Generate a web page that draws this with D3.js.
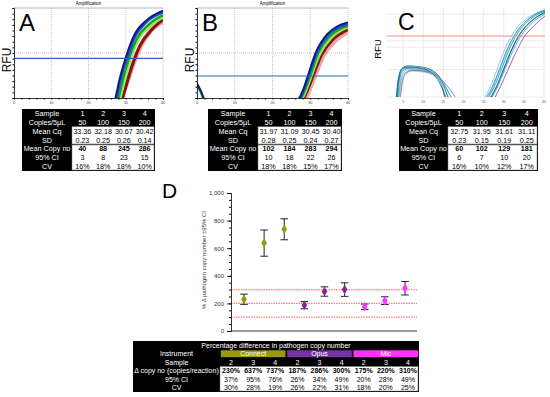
<!DOCTYPE html>
<html>
<head>
<meta charset="utf-8">
<script src="https://cdn.jsdelivr.net/npm/d3@7"></script>
<style>
  body { margin: 0; background: #fff; }
  svg { display: block; font-family: "Liberation Sans", Arial, sans-serif; }
</style>
</head>
<body>
<script>
// ---------- data ----------
const cycleTicks = [0, 10, 20, 30, 40];
const cycleTicksC = [5, 10, 15, 20, 25, 30, 35, 40];
const samples = ["1", "2", "3", "4"];
const copiesPer5uL = ["50", "100", "150", "200"];

const meanCqA = ["33.36", "32.18", "30.67", "30.42"];
const sdA = ["0.23", "0.25", "0.26", "0.14"];
const copyNoA = ["40", "88", "245", "286"];
const ciA = ["3", "8", "23", "15"];
const cvA = ["16%", "18%", "18%", "10%"];

const meanCqB = ["31.97", "31.09", "30.45", "30.40"];
const sdB = ["0.28", "0.25", "0.24", "0.27"];
const copyNoB = ["102", "184", "283", "294"];
const ciB = ["10", "18", "22", "26"];
const cvB = ["18%", "18%", "15%", "17%"];

const meanCqC = ["32.75", "31.95", "31.61", "31.11"];
const sdC = ["0.23", "0.15", "0.19", "0.25"];
const copyNoC = ["60", "102", "129", "181"];
const ciC = ["6", "7", "10", "20"];
const cvC = ["16%", "10%", "12%", "17%"];

const instruments = ["Connect", "Opus", "Mic"];
const dSamples = ["2", "3", "4"];
const deltaCopy = [230, 637, 737, 187, 286, 300, 175, 220, 310];
const deltaCI = [37, 95, 76, 26, 34, 49, 20, 28, 49];
const deltaCV = [30, 28, 19, 26, 22, 31, 18, 20, 25];
const refLines = [100, 200, 300];
const dTicks = [0, 200, 400, 600, 800, 1000];

// amplification traces, [cycle, normalised RFU]
const thresholdA = 0.44;
const thresholdB = 0.244;
const thresholdC = 0.685;

const tracesA = {
  pink:   [[28.5,-0.05],[30.5,0.2],[32,0.38],[34,0.58],[36.5,0.74],[40,0.85]],
  red:    [[28.8,-0.05],[30.4,0.18],[31.8,0.37],[33.8,0.58],[36.8,0.75],[40,0.87]],
  lgreen: [[28.2,-0.05],[29.8,0.22],[31.5,0.47],[33.5,0.66],[36.5,0.8],[40,0.9]],
  green:  [[27.8,-0.05],[29.5,0.25],[31,0.46],[33,0.66],[36,0.81],[40,0.92]],
  blue:   [[27.3,-0.05],[28.9,0.25],[30.6,0.47],[32.5,0.68],[35.5,0.84],[40,0.95]],
  navy:   [[27.0,-0.05],[28.6,0.25],[30.4,0.5],[32.3,0.7],[35.5,0.86],[40,0.97]]
};
const tracesB = {
  pink:   [[28.2,-0.05],[29.8,0.1],[31.2,0.25],[33.4,0.47],[36.4,0.63],[40,0.74]],
  red:    [[27.8,-0.05],[29.4,0.1],[30.8,0.25],[33,0.48],[36,0.65],[40,0.76]],
  lgreen: [[27.3,-0.05],[28.8,0.08],[30.2,0.24],[32.3,0.47],[35.3,0.66],[40,0.79]],
  green:  [[27,-0.05],[28.5,0.08],[30,0.25],[32,0.49],[35,0.68],[37.5,0.76],[40,0.8]],
  blue:   [[26.8,-0.05],[28.2,0.08],[29.6,0.25],[31.7,0.5],[34.7,0.7],[37.3,0.78],[40,0.82]],
  navy:   [[26.5,-0.05],[28,0.08],[29.4,0.25],[31.5,0.51],[34.5,0.71],[37.3,0.8],[40,0.84]]
};
const startB = {
  green: [[0,0.14],[1,0.06],[1.8,-0.03]],
  navy:  [[0,0.16],[1.1,0.07],[2,-0.03]]
};

const humpsC = [
  [[3.2,-0.05],[3.7,0.18],[4.4,0.29],[5.5,0.33],[8,0.33],[11,0.3],[13,0.25],[14.5,0.15],[15.6,-0.05]],
  [[3.5,-0.05],[4,0.2],[4.8,0.3],[6,0.32],[9,0.31],[12,0.27],[14,0.18],[15.2,0.05],[16,-0.05]],
  [[3.8,-0.05],[4.3,0.17],[5,0.27],[6.5,0.31],[9.5,0.3],[12.5,0.26],[14.5,0.17],[16,0.02],[16.8,-0.05]],
  [[3.3,-0.05],[3.9,0.2],[4.6,0.31],[6,0.34],[8.5,0.33],[11.5,0.29],[13.5,0.2],[15,0.06],[15.8,-0.05]],
  [[4,-0.05],[4.6,0.15],[5.4,0.25],[7,0.29],[10,0.28],[12.5,0.24],[14.5,0.14],[16.3,0],[17.2,-0.05]],
  [[3.6,-0.05],[4.1,0.19],[4.9,0.29],[6.5,0.33],[10,0.32],[13,0.27],[15,0.16],[16.5,0.03],[17.5,-0.05]],
  [[3.4,-0.05],[3.9,0.21],[4.7,0.32],[6.2,0.35],[9.2,0.34],[12.2,0.3],[14.2,0.21],[15.6,0.07],[16.4,-0.05]],
  [[3.9,-0.05],[4.4,0.16],[5.2,0.26],[7,0.3],[10.5,0.29],[13.5,0.24],[15.4,0.13],[16.8,0.01],[17.6,-0.05]],
  [[4.2,-0.05],[4.8,0.16],[5.6,0.26],[7.5,0.3],[11,0.28],[14,0.22],[16,0.12],[17.8,0.01],[18.6,-0.05]]
];
const risesC = [
  [[24.5,-0.05],[26.5,0.1],[28.5,0.33],[30.5,0.56],[32.5,0.73],[35,0.86],[38,0.94],[40.5,0.99]],
  [[25,-0.05],[27,0.1],[29,0.32],[31,0.55],[33,0.72],[35.5,0.85],[38,0.93],[40.5,0.98]],
  [[25.3,-0.05],[27.2,0.1],[29.2,0.33],[31.2,0.56],[33.2,0.73],[35.7,0.86],[38.2,0.94],[40.5,0.98]],
  [[25.5,-0.05],[27.5,0.1],[29.5,0.32],[31.5,0.55],[33.5,0.72],[36,0.85],[38.5,0.93],[40.5,0.97]],
  [[26,-0.05],[28,0.1],[30,0.32],[32,0.54],[34,0.71],[36.5,0.84],[40.5,0.95]],
  [[26.2,-0.05],[28.1,0.1],[30.1,0.32],[32.1,0.54],[34.1,0.71],[36.6,0.84],[40.5,0.96]],
  [[26.5,-0.05],[28.3,0.1],[30.3,0.31],[32.3,0.52],[34.3,0.69],[36.8,0.82],[40.5,0.94]],
  [[27.3,-0.05],[29,0.1],[31,0.3],[33,0.5],[35,0.67],[37.5,0.8],[40.5,0.92]]
];

// ---------- styles ----------
const FONT = '"Liberation Sans", Arial, sans-serif';
const traceColour = { pink: "#e9a7a7", red: "#8e1010", lgreen: "#86f060", green: "#1ea51e", blue: "#2050d0", navy: "#0c1a8a" };
const traceWidth = { pink: 5, red: 3, lgreen: 3, green: 2.5, blue: 2.5, navy: 2 };
const humpColours = ["#2a78b8", "#3aa6c4", "#6cc6c8", "#1d5c96", "#8fd0d0", "#2f8fb0", "#1f6f9a", "#4cb4c0", "#9b5aa8"];
const riseColours = ["#8ec9e6", "#2a84c0", "#5bb6d8", "#1f9e9a", "#256fae", "#1b5f86", "#3ab0c8", "#9b4fa8"];
const instColour = { Connect: "#9b970f", Opus: "#7733a6", Mic: "#ff33ff" };
const markColour = { Connect: "#9b970f", Opus: "#8a2396", Mic: "#ff33ff" };

const svg = d3.select("body").append("svg")
  .attr("width", 550).attr("height", 397)
  .style("font-family", FONT);

const line = d3.line().curve(d3.curveMonotoneX);

// ---------- panels A / B ----------
function ampPanel(o) {
  const g = svg.append("g");
  const x = d3.scaleLinear().domain([0, 40]).range([o.x0, o.x1]);
  const y = d3.scaleLinear().domain([0, 1]).range([o.y1, o.y0]);
  const clipId = "clip" + o.letter;
  svg.append("clipPath").attr("id", clipId).append("rect")
    .attr("x", o.x0).attr("y", o.y0).attr("width", o.x1 - o.x0).attr("height", o.y1 - o.y0);

  // frame + grid
  g.append("line").attr("x1", o.x0).attr("x2", o.x1).attr("y1", o.y0).attr("y2", o.y0)
    .attr("stroke", "#999").attr("stroke-width", 0.7);
  g.append("line").attr("x1", o.x1).attr("x2", o.x1).attr("y1", o.y0).attr("y2", o.y1)
    .attr("stroke", "#aaa").attr("stroke-width", 0.7).attr("stroke-dasharray", "1,1");
  g.selectAll(".vg").data([10, 20, 30]).join("line")
    .attr("x1", d => x(d)).attr("x2", d => x(d)).attr("y1", o.y0).attr("y2", o.y1)
    .attr("stroke", "#aaa").attr("stroke-width", 0.7).attr("stroke-dasharray", "1,1");
  g.append("line").attr("x1", o.x0).attr("x2", o.x1).attr("y1", y(0.5)).attr("y2", y(0.5))
    .attr("stroke", "#aaa").attr("stroke-width", 0.7).attr("stroke-dasharray", "1,1");

  // traces
  const tg = g.append("g").attr("clip-path", `url(#${clipId})`);
  Object.keys(o.traces).forEach(k => {
    tg.append("path").attr("d", line(o.traces[k].map(p => [x(p[0]), y(p[1])])))
      .attr("fill", "none").attr("stroke", traceColour[k]).attr("stroke-width", traceWidth[k]);
  });
  if (o.start) Object.keys(o.start).forEach(k => {
    tg.append("path").attr("d", line(o.start[k].map(p => [x(p[0]), y(p[1])])))
      .attr("fill", "none").attr("stroke", traceColour[k]).attr("stroke-width", 2);
  });
  // threshold
  g.append("line").attr("x1", o.x0 + 1).attr("x2", o.x1).attr("y1", y(o.thr)).attr("y2", y(o.thr))
    .attr("stroke", "#2b66b8").attr("stroke-width", 1.1);

  // axes
  const xa = g.append("g").attr("transform", `translate(0,${o.y1})`)
    .call(d3.axisBottom(x).tickValues(d3.range(0, 41, 2)).tickSize(1.5).tickFormat(""));
  xa.select(".domain").attr("stroke-width", 0.8);
  g.selectAll(".xl").data(cycleTicks).join("text")
    .attr("x", d => x(d)).attr("y", o.y1 + 6).attr("text-anchor", "middle")
    .attr("font-size", 3.8).attr("fill", "#444").text(d => d);
  const ya = g.append("g").attr("transform", `translate(${o.x0},0)`)
    .call(d3.axisLeft(y).tickValues(d3.range(0, 1.01, 0.0625)).tickSize(1.5).tickFormat(""));
  ya.select(".domain").attr("stroke-width", 0.8);

  g.append("text").attr("x", (o.x0 + o.x1) / 2).attr("y", 5).attr("text-anchor", "middle")
    .attr("font-size", 4.5).text("Amplification");
  g.append("text").attr("x", o.x0 + 5).attr("y", o.y0 + 23).attr("font-size", 24).text(o.letter);
  g.append("text").attr("transform", `translate(${o.x0 - 3},${(o.y0 + o.y1) / 2 + 7}) rotate(-90)`)
    .attr("text-anchor", "middle").attr("font-size", 12).text("RFU");
}

ampPanel({ letter: "A", x0: 14, x1: 163, y0: 8, y1: 98, thr: thresholdA, traces: tracesA });
ampPanel({ letter: "B", x0: 197, x1: 348, y0: 8, y1: 98, thr: thresholdB, traces: tracesB, start: startB });

// ---------- panel C ----------
(function () {
  const g = svg.append("g");
  const x0 = 387, x1 = 545, y0 = 8, y1 = 97;
  const x = d3.scaleLinear().domain([0, 40]).range([383, 544]);
  const y = d3.scaleLinear().domain([0, 1]).range([y1, y0]);
  svg.append("clipPath").attr("id", "clipC").append("rect")
    .attr("x", x0).attr("y", y0).attr("width", x1 - x0).attr("height", y1 - y0);
  g.selectAll(".vg").data(cycleTicksC).join("line")
    .attr("x1", d => x(d)).attr("x2", d => x(d)).attr("y1", y0).attr("y2", y1)
    .attr("stroke", "#e4e4e4").attr("stroke-width", 0.8);
  g.selectAll(".hg").data([0, 0.31, 0.56, 0.63, 0.93]).join("line")
    .attr("x1", x0).attr("x2", x1).attr("y1", d => y(d)).attr("y2", d => y(d))
    .attr("stroke", "#e4e4e4").attr("stroke-width", 0.8);
  const tg = g.append("g").attr("clip-path", "url(#clipC)");
  humpsC.forEach((t, i) => tg.append("path").attr("d", line(t.map(p => [x(p[0]), y(p[1])])))
    .attr("fill", "none").attr("stroke", humpColours[i]).attr("stroke-width", 0.9).attr("opacity", 0.9));
  risesC.forEach((t, i) => tg.append("path").attr("d", line(t.map(p => [x(p[0]), y(p[1])])))
    .attr("fill", "none").attr("stroke", riseColours[i]).attr("stroke-width", 1).attr("opacity", 0.9));
  g.append("line").attr("x1", x0).attr("x2", x1).attr("y1", y(thresholdC)).attr("y2", y(thresholdC))
    .attr("stroke", "#f48a84").attr("stroke-width", 1);
  g.selectAll(".xl").data(cycleTicksC).join("text")
    .attr("x", d => x(d)).attr("y", y1 + 5.5).attr("text-anchor", "middle")
    .attr("font-size", 3.5).attr("fill", "#555").text(d => d);
  g.append("text").attr("x", 398).attr("y", 30).attr("font-size", 23).text("C");
  g.append("text").attr("transform", `translate(381,49) rotate(-90)`)
    .attr("text-anchor", "middle").attr("font-size", 9.5).text("RFU");
})();

// ---------- small tables ----------
function panelTable(x0, y0, w, h, labelW, cq, sd, copyNo, ci, cv) {
  const rows = [
    { label: "Sample", vals: samples, head: true },
    { label: "Copies/5µL", vals: copiesPer5uL, head: true },
    { label: "Mean Cq", vals: cq },
    { label: "SD", vals: sd },
    { label: "Mean Copy no", vals: copyNo, bold: true },
    { label: "95% CI", vals: ci },
    { label: "CV", vals: cv }
  ];
  const rh = h / rows.length;
  const cw = (w - labelW) / 4;
  const g = svg.append("g");
  g.append("rect").attr("x", x0).attr("y", y0).attr("width", w).attr("height", h).attr("fill", "#000");
  g.append("rect").attr("x", x0 + labelW).attr("y", y0 + 2 * rh).attr("width", w - labelW - 1)
    .attr("height", 5 * rh - 1).attr("fill", "#fff").attr("stroke", "#777").attr("stroke-width", 0.5);
  g.append("line").attr("x1", x0 + labelW).attr("x2", x0 + w - 1)
    .attr("y1", y0 + 4 * rh).attr("y2", y0 + 4 * rh).attr("stroke", "#555").attr("stroke-width", 1.6);
  rows.forEach((r, i) => {
    const cy = y0 + (i + 0.5) * rh;
    g.append("text").attr("x", x0 + labelW / 2).attr("y", cy).attr("dy", "0.35em")
      .attr("text-anchor", "middle").attr("font-size", 7.2).attr("fill", "#fff").text(r.label);
    r.vals.forEach((v, j) => {
      g.append("text").attr("x", x0 + labelW + (j + 0.5) * cw).attr("y", cy).attr("dy", "0.35em")
        .attr("text-anchor", "middle").attr("font-size", 7.2)
        .attr("font-weight", r.bold ? "bold" : "normal")
        .attr("fill", r.head ? "#fff" : "#000").text(v);
    });
  });
}
panelTable(22, 109, 133, 62, 50, meanCqA, sdA, copyNoA, ciA, cvA);
panelTable(208, 109, 134, 62, 50, meanCqB, sdB, copyNoB, ciB, cvB);
panelTable(399, 109, 139, 62, 49, meanCqC, sdC, copyNoC, ciC, cvC);

// ---------- panel D ----------
(function () {
  const g = svg.append("g");
  const ax0 = 231, ax1 = 417;
  const y = d3.scaleLinear().domain([0, 1000]).range([331, 193]);
  const keys = d3.range(deltaCopy.length);
  const x = d3.scalePoint().domain(keys).range([244, 405]);
  const inst = i => instruments[Math.floor(i / 3)];

  g.selectAll(".ref").data(refLines).join("line")
    .attr("x1", ax0).attr("x2", ax1).attr("y1", d => y(d)).attr("y2", d => y(d))
    .attr("stroke", "#ff6a6a").attr("stroke-width", 1.2).attr("stroke-dasharray", "1.5,1")
    .attr("opacity", 0.85);

  const ya = g.append("g").attr("transform", `translate(${ax0},0)`)
    .call(d3.axisLeft(y).tickValues(dTicks).tickSize(4).tickFormat(d3.format(",")));
  ya.selectAll("text").attr("font-size", 6).attr("font-family", FONT).attr("fill", "#333");
  ya.selectAll("line, .domain").attr("stroke-width", 0.8);
  g.append("g").attr("transform", `translate(${ax0},0)`)
    .call(d3.axisLeft(y).tickValues(d3.range(0, 1001, 50)).tickSize(2).tickFormat(""))
    .select(".domain").remove();
  g.append("line").attr("x1", ax0).attr("x2", ax1).attr("y1", 331).attr("y2", 331)
    .attr("stroke", "#000").attr("stroke-width", 0.8);

  const eb = g.selectAll(".eb").data(keys).join("g");
  eb.append("line").attr("x1", i => x(i)).attr("x2", i => x(i))
    .attr("y1", i => y(deltaCopy[i] - deltaCI[i])).attr("y2", i => y(deltaCopy[i] + deltaCI[i]))
    .attr("stroke", "#222").attr("stroke-width", 1);
  [-1, 1].forEach(s => eb.append("line")
    .attr("x1", i => x(i) - 3.8).attr("x2", i => x(i) + 3.8)
    .attr("y1", i => y(deltaCopy[i] + s * deltaCI[i])).attr("y2", i => y(deltaCopy[i] + s * deltaCI[i]))
    .attr("stroke", "#222").attr("stroke-width", 1));
  eb.append("path").attr("transform", i => `translate(${x(i)},${y(deltaCopy[i])})`)
    .attr("d", d3.symbol(d3.symbolDiamond, 26)).attr("fill", i => markColour[inst(i)]);
  eb.append("circle").attr("cx", i => x(i)).attr("cy", i => y(deltaCopy[i])).attr("r", 2.1)
    .attr("fill", i => markColour[inst(i)]);

  g.append("text").attr("transform", `translate(206,260) rotate(-90)`)
    .attr("text-anchor", "middle").attr("font-size", 6).attr("fill", "#333")
    .text("% Δ pathogen copy number ±95% CI");
  g.append("text").attr("x", 162).attr("y", 198).attr("font-size", 21).text("D");

  // table
  const tx = 133, ty = 341, tw = 286, th = 51, lw = 87;
  const rh = th / 6, cw = (tw - lw) / 9;
  const t = svg.append("g");
  t.append("rect").attr("x", tx).attr("y", ty).attr("width", tw).attr("height", th).attr("fill", "#000");
  t.append("rect").attr("x", tx + lw).attr("y", ty + 3 * rh).attr("width", tw - lw - 1)
    .attr("height", 3 * rh - 1).attr("fill", "#fff").attr("stroke", "#777").attr("stroke-width", 0.5);
  const txt = (xx, yy, s, o = {}) => t.append("text").attr("x", xx).attr("y", yy).attr("dy", "0.35em")
    .attr("text-anchor", "middle").attr("font-size", 7).attr("fill", o.fill || "#fff")
    .attr("font-weight", o.bold ? "bold" : "normal").text(s);
  txt(tx + tw / 2, ty + 0.5 * rh, "Percentage difference in pathogen copy number");
  const labels = ["Instrument", "Sample", "Δ copy no (copies/reaction)", "95% CI", "CV"];
  labels.forEach((l, i) => txt(tx + lw / 2, ty + (i + 1.5) * rh, l));
  instruments.forEach((n, k) => {
    const cx0 = tx + lw + k * 3 * cw;
    t.append("rect").attr("x", cx0 + 0.8).attr("y", ty + rh + 0.8).attr("width", 3 * cw - 1.6)
      .attr("height", rh - 1.6).attr("fill", instColour[n]);
    txt(cx0 + 1.5 * cw, ty + 1.5 * rh, n);
  });
  keys.forEach(i => {
    const cx = tx + lw + (i + 0.5) * cw;
    txt(cx, ty + 2.5 * rh, dSamples[i % 3]);
    txt(cx, ty + 3.5 * rh, deltaCopy[i] + "%", { fill: "#000", bold: true });
    txt(cx, ty + 4.5 * rh, deltaCI[i] + "%", { fill: "#000" });
    txt(cx, ty + 5.5 * rh, deltaCV[i] + "%", { fill: "#000" });
  });
})();
</script>
</body>
</html>
